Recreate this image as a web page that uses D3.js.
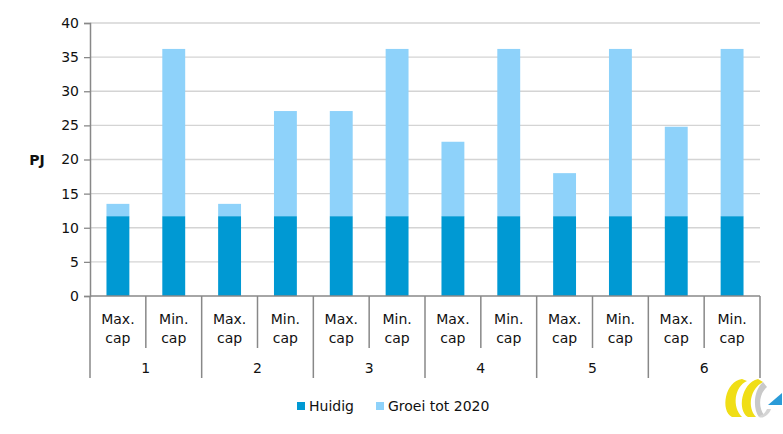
<!DOCTYPE html>
<html><head><meta charset="utf-8">
<script src="https://cdn.jsdelivr.net/npm/d3@7"></script>
<style>body{margin:0;background:#fff}svg{display:block;font-family:"DejaVu Sans",sans-serif}</style>
</head><body><svg id="c" width="783" height="434"></svg>
<script>
const groups = ["1","2","3","4","5","6"];
const subLabels = ["Max.\ncap","Min.\ncap"];
const huidig = [11.7,11.7,11.7,11.7,11.7,11.7,11.7,11.7,11.7,11.7,11.7,11.7];
const totaal = [13.5,36.2,13.5,27.1,27.1,36.2,22.6,36.2,18.0,36.2,24.8,36.2];
const groei = totaal.map((t,i)=>+(t-huidig[i]).toFixed(1));
const yTicks = [0,5,10,15,20,25,30,35,40];
const seriesNames = ["Huidig","Groei tot 2020"];
const colors = ["#0099D3","#8ED2FA"];

const svg = d3.select("#c");
const L=90,R=760,T=23,B=296;
const cats = d3.range(groups.length*subLabels.length);
const x = d3.scaleBand().domain(cats).range([L,R]).paddingInner(0.59).paddingOuter(0.295);
const xs = d3.scaleBand().domain(cats).range([L,R]);
const y = d3.scaleLinear().domain([0,40]).range([B,T]);

// grid
svg.append("g").selectAll("line").data(yTicks.slice(1)).join("line")
  .attr("x1",L).attr("x2",R).attr("y1",d=>y(d)).attr("y2",d=>y(d))
  .attr("stroke","#d4d4d4").attr("stroke-width",1.3);

// y axis
const ya = svg.append("g").attr("transform",`translate(${L},0)`)
  .call(d3.axisLeft(y).tickValues(yTicks).tickSize(6).tickPadding(5));
ya.select(".domain").attr("stroke","#888").attr("stroke-width",1.5);
ya.selectAll(".tick line").attr("stroke","#888").attr("stroke-width",1.3);
ya.selectAll("text").attr("font-size",14).attr("fill","#111").attr("font-family","DejaVu Sans");

svg.append("text").attr("x",37).attr("y",y(20)+5).attr("text-anchor","middle")
  .attr("font-size",14).attr("font-weight","bold").attr("fill","#111").text("PJ");

// bars
const stack = d3.stack().keys([0,1])(cats.map(i=>[huidig[i],groei[i]]));
svg.append("g").selectAll("g").data(stack).join("g").attr("fill",(d,i)=>colors[i])
  .selectAll("rect").data(d=>d).join("rect")
  .attr("x",(d,i)=>x(i)).attr("width",x.bandwidth())
  .attr("y",d=>y(d[1])).attr("height",d=>y(d[0])-y(d[1]));

// x axis
svg.append("line").attr("x1",L).attr("x2",R).attr("y1",B).attr("y2",B).attr("stroke","#888").attr("stroke-width",1.5);
const bounds = d3.range(cats.length+1);
svg.append("g").selectAll("line").data(bounds).join("line")
  .attr("x1",i=>L+i*xs.bandwidth()).attr("x2",i=>L+i*xs.bandwidth())
  .attr("y1",B).attr("y2",i=> i%2===0 ? 378 : 348)
  .attr("stroke","#888").attr("stroke-width",1.5);

const sl = svg.append("g").selectAll("text").data(cats).join("text")
  .attr("text-anchor","middle").attr("font-size",14).attr("fill","#111");
sl.each(function(i){
  const lines = subLabels[i%2].split("\n");
  d3.select(this).selectAll("tspan").data(lines).join("tspan")
    .attr("x",xs(i)+xs.bandwidth()/2).attr("y",(d,k)=>324+k*19).text(d=>d);
});
svg.append("g").selectAll("text").data(groups).join("text")
  .attr("x",(d,g)=>L+(g*2+1)*xs.bandwidth()).attr("y",373)
  .attr("text-anchor","middle").attr("font-size",14).attr("fill","#111").text(d=>d);

// legend
const lg = svg.append("g");
const lx = [297,376];
seriesNames.forEach((n,i)=>{
  lg.append("rect").attr("x",lx[i]).attr("y",402).attr("width",8).attr("height",8).attr("fill",colors[i]);
  lg.append("text").attr("x",lx[i]+12).attr("y",411).attr("font-size",14).attr("fill","#111").text(n);
});

// logo
const lo = svg.append("g").attr("transform","translate(723,379)");
lo.append("path").attr("d","M19,0 C2,2 -3,32 9,38 L19,38 C9,28 11,8 24,2 Z").attr("fill","#F0DE16");
lo.append("path").attr("d","M35,0 C18,4 14,32 25,38 L33,38 C24,28 27,10 40,3 Z").attr("fill","#F0DE16");
lo.append("path").attr("d","M40,3 C30,12 30,30 36,38 L41,36 C35,28 36,15 44,8 Z").attr("fill","#C9C9C9");
lo.append("path").attr("d","M36,38 C40,40 46,36 48,30 L44,30 C42,34 40,36 38,36 Z").attr("fill","#D5D5D5");
lo.append("path").attr("d","M45,26 L59,14 L59,26 Z").attr("fill","#2A9BD8");
</script></body></html>
